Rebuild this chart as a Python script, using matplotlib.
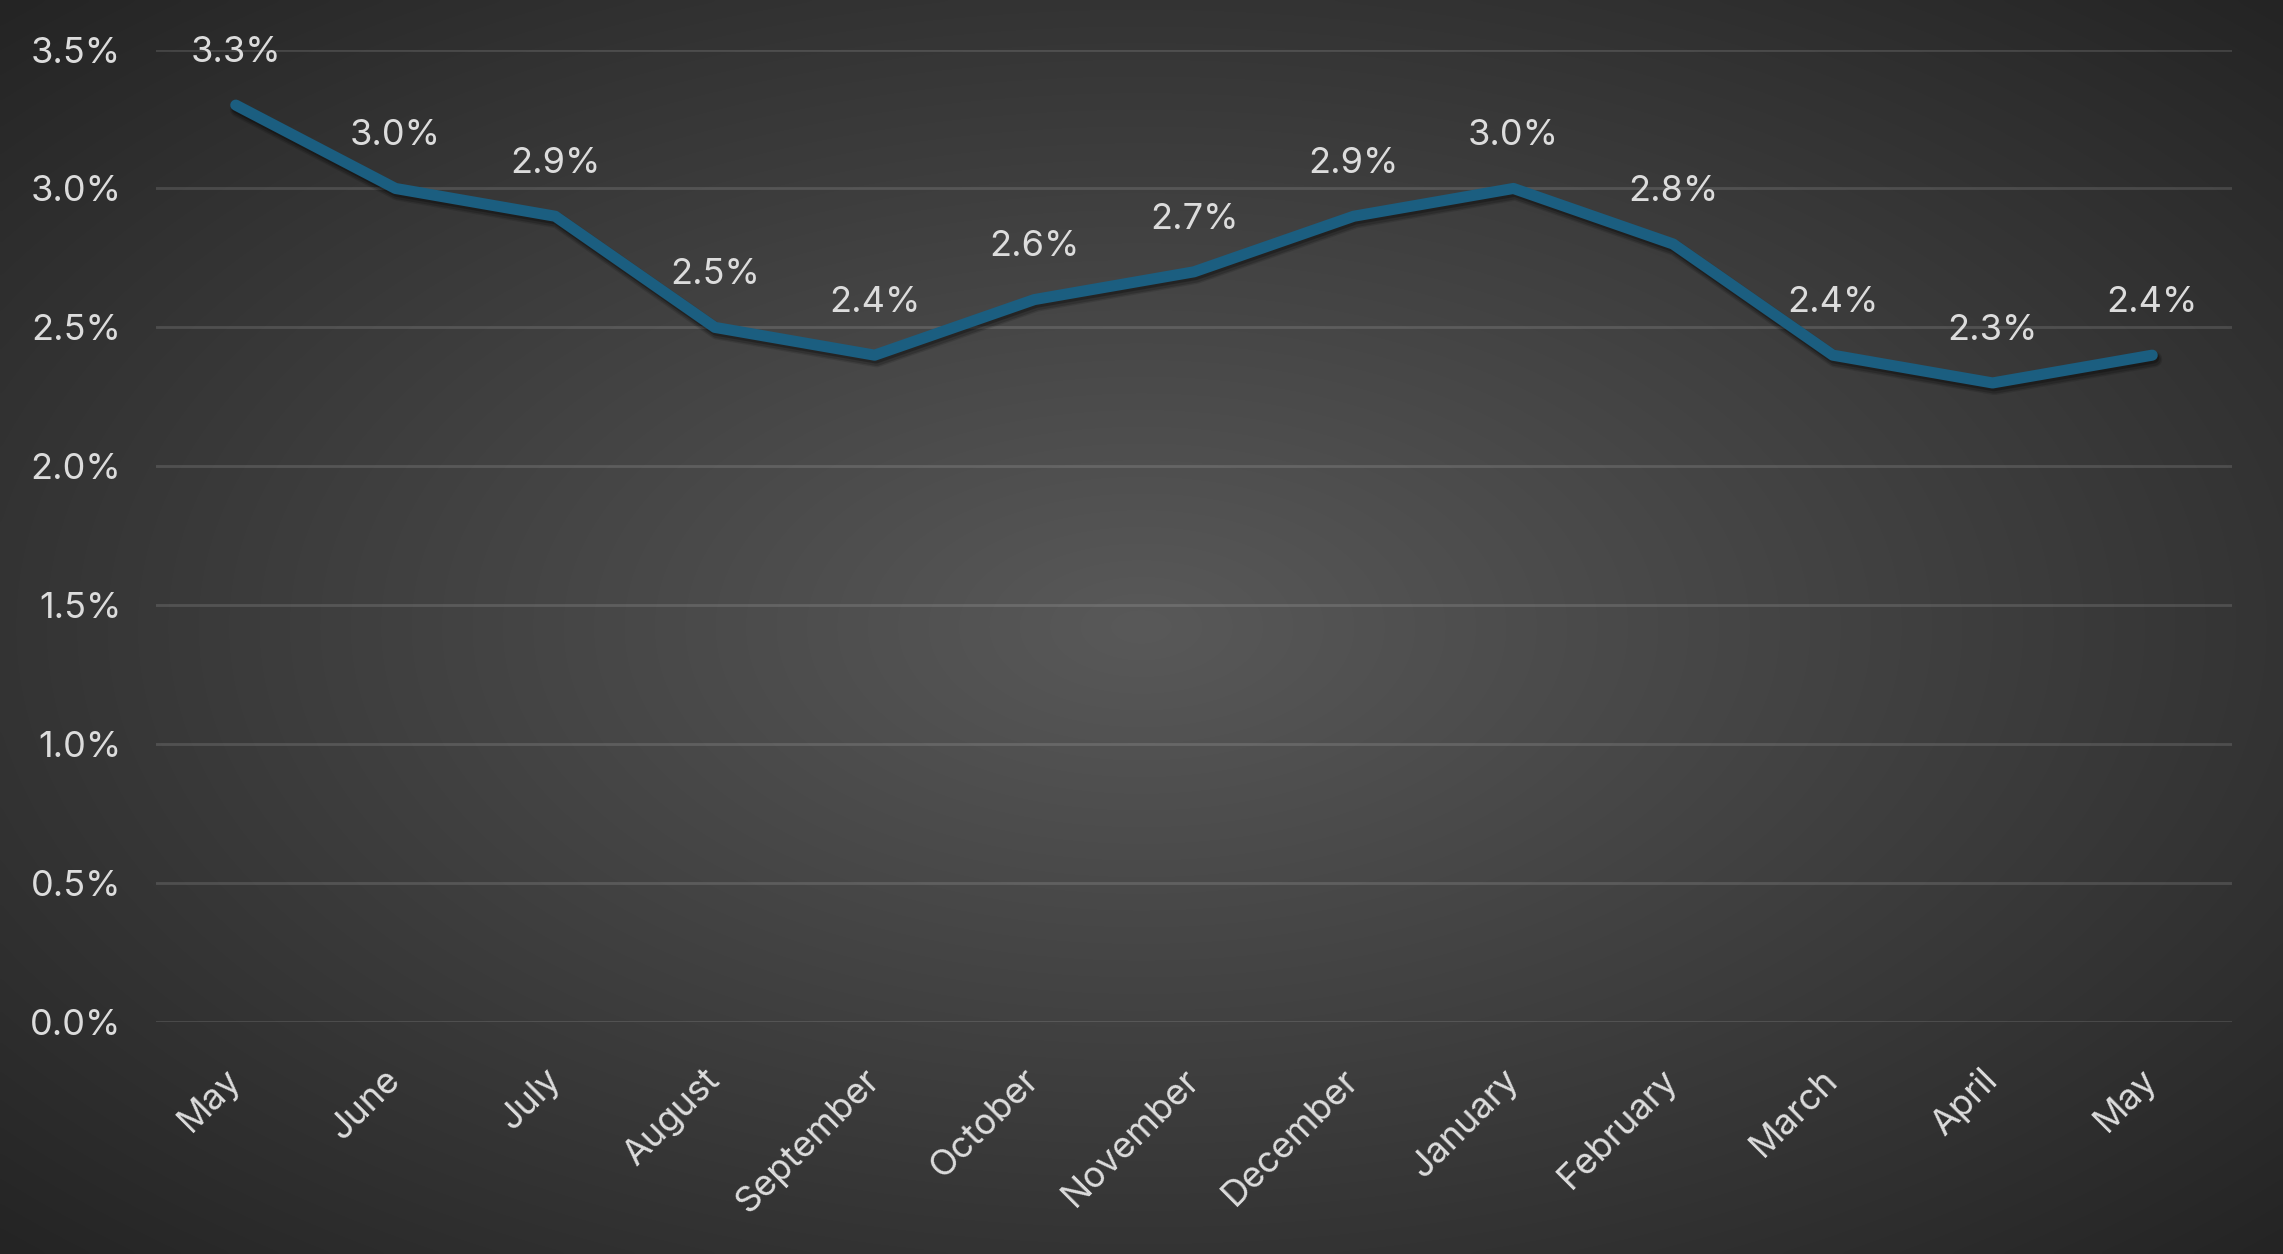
import numpy as np
import matplotlib
matplotlib.use('Agg')
import matplotlib.pyplot as plt
import matplotlib.patheffects as pe

plt.rcParams['font.family'] = ['Inter', 'DejaVu Sans']

# Monthly rate, May to May
months = ['May', 'June', 'July', 'August', 'September', 'October', 'November',
          'December', 'January', 'February', 'March', 'April', 'May']
rates = [3.3, 3.0, 2.9, 2.5, 2.4, 2.6, 2.7, 2.9, 3.0, 2.8, 2.4, 2.3, 2.4]
y_ticks = [0.0, 0.5, 1.0, 1.5, 2.0, 2.5, 3.0, 3.5]

text_color = '#dcdcdc'
line_color = '#1b5e80'


def main():
    fig = plt.figure(figsize=(22.83, 12.54), dpi=100)

    # radial gradient background
    bg = fig.add_axes([0, 0, 1, 1], zorder=0)
    gx, gy = np.meshgrid(np.linspace(-1, 1, 600), np.linspace(-1, 1, 330))
    r = np.clip(np.sqrt(gx ** 2 + gy ** 2) / np.sqrt(2), 0, 1)
    shade = (89 - (89 - 36) * r) / 255.0
    img = np.dstack([shade, shade, shade])
    bg.imshow(img, aspect='auto', interpolation='bicubic', extent=[0, 1, 0, 1])
    bg.axis('off')

    ax = fig.add_axes([0.0683, 0.185, 0.9094, 0.7755], zorder=1)
    ax.patch.set_alpha(0)

    x = np.arange(len(months))
    # soft drop shadow under the line
    shadow = [pe.SimpleLineShadow(offset=(1.5, -3), shadow_color='black', alpha=0.12, linewidth=11.5),
              pe.SimpleLineShadow(offset=(1.5, -3), shadow_color='black', alpha=0.18, linewidth=9.5),
              pe.SimpleLineShadow(offset=(1, -2), shadow_color='black', alpha=0.25, linewidth=8),
              pe.Normal()]
    ax.plot(x, rates, color=line_color, linewidth=8, solid_capstyle='round',
            solid_joinstyle='round', zorder=3, path_effects=shadow)

    for xi, v in zip(x, rates):
        ax.annotate(f'{v:.1f}%', (xi, v), xytext=(0, 38), textcoords='offset points',
                    ha='center', va='center', color=text_color, fontsize=26)

    ax.set_xlim(-0.5, len(months) - 0.5)
    ax.set_ylim(0, 3.5)
    ax.set_yticks(y_ticks)
    ax.set_yticklabels([f'{t:.1f}%' for t in y_ticks])
    ax.set_xticks(x)
    ax.set_xticklabels(months, rotation=45, ha='right', va='center',
                       rotation_mode='anchor')

    ax.tick_params(axis='both', length=0, colors=text_color, labelsize=26)
    ax.tick_params(axis='y', pad=25)
    ax.tick_params(axis='x', pad=38)

    ax.grid(axis='y', color='white', alpha=0.13, linewidth=2)
    ax.set_axisbelow(True)
    for s in ax.spines.values():
        s.set_visible(False)

    fig.savefig('out.png', dpi=100)


if __name__ == "__main__":
    main()
